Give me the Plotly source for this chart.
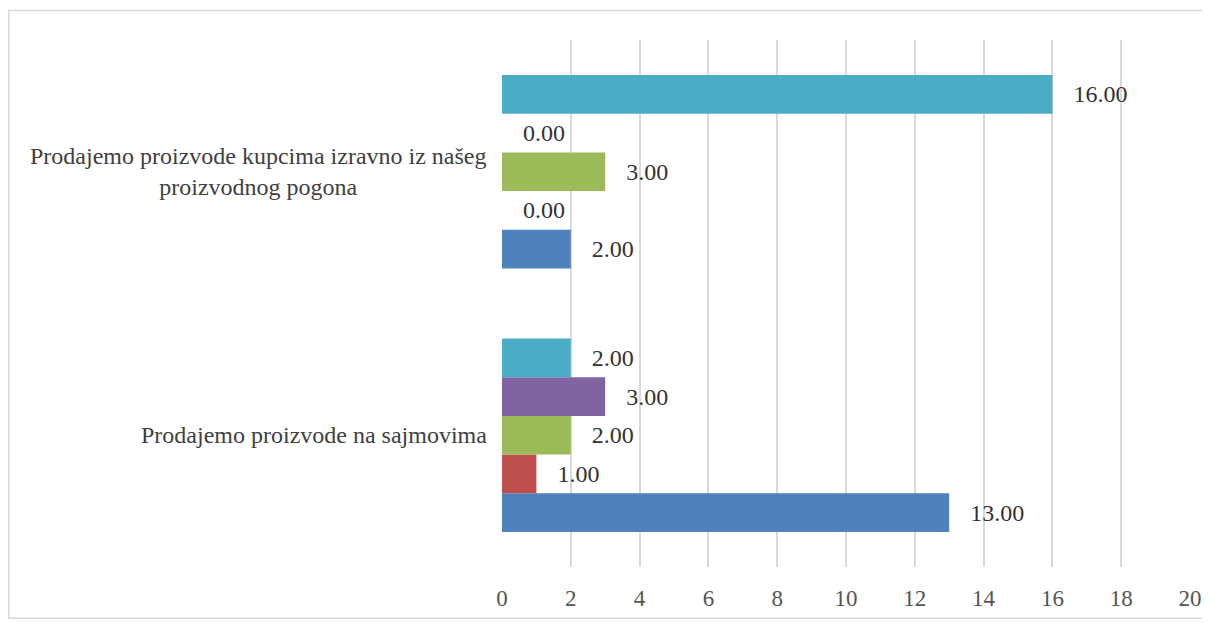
import plotly.graph_objects as go

categories = ["Prodajemo proizvode na sajmovima",
              "Prodajemo proizvode kupcima izravno iz našeg proizvodnog pogona"]
cat_labels = ["Prodajemo proizvode na sajmovima",
              "Prodajemo proizvode kupcima izravno iz našeg<br>proizvodnog pogona"]
series_names = ["Serija 1", "Serija 2", "Serija 3", "Serija 4", "Serija 5"]
series_values = [
    [13, 2],
    [1, 0],
    [2, 3],
    [3, 0],
    [2, 16],
]
colors = ["#4F81BD", "#C0504D", "#9BBB59", "#8064A2", "#4BACC6"]
x_ticks = [0, 2, 4, 6, 8, 10, 12, 14, 16, 18, 20]

SERIF = "Liberation Serif"

# page body has an 8px margin; size the figure so the plot lands where the reference has it
W, H = 1210, 615
ML, MR, MT, MB = 494, 28, 32, 47
PW = W - ML - MR
PH = H - MT - MB

fig = go.Figure()
for name, vals, col in zip(series_names, series_values, colors):
    fig.add_trace(go.Bar(
        y=categories, x=vals, orientation="h", name=name,
        marker=dict(color=col, line=dict(width=0)),
        text=[f"{v:.2f}" for v in vals],
        texttemplate="\u00a0\u00a0\u00a0%{text}",
        textposition="outside", constraintext="none", cliponaxis=False,
        textfont=dict(family=SERIF, size=24, color="#333333"),
        hoverinfo="skip",
    ))

for cat, lab in zip(categories, cat_labels):
    fig.add_annotation(
        x=0, xref="paper", y=cat, yref="y", text=lab, showarrow=False,
        xanchor="right", yanchor="middle", align="center", xshift=-13,
        font=dict(family=SERIF, size=24, color="#404040"),
    )

# outer chart border
fig.add_shape(type="rect", xref="paper", yref="paper",
              x0=(0.75 - ML) / PW, x1=(W + 5 - ML) / PW,
              y0=-(MB + 5) / PH, y1=1 + (MT - 2) / PH,
              line=dict(color="#D9D9D9", width=1.5), fillcolor="rgba(0,0,0,0)", layer="below")

fig.update_layout(
    width=W, height=H,
    margin=dict(l=ML, r=MR, t=MT, b=MB),
    barmode="group", bargap=0.265, bargroupgap=0,
    showlegend=False,
    paper_bgcolor="white", plot_bgcolor="white",
    font=dict(family=SERIF, color="#404040"),
    xaxis=dict(range=[0, 20], tickvals=x_ticks, showgrid=True,
               gridcolor="#D9D9D9", gridwidth=1.5, zeroline=False,
               showline=False, ticks="", ticklabelstandoff=15,
               tickfont=dict(family=SERIF, size=23, color="#555555")),
    yaxis=dict(showticklabels=False, showgrid=False, zeroline=False,
               showline=False, ticks=""),
)

fig.write_html("out.html")
